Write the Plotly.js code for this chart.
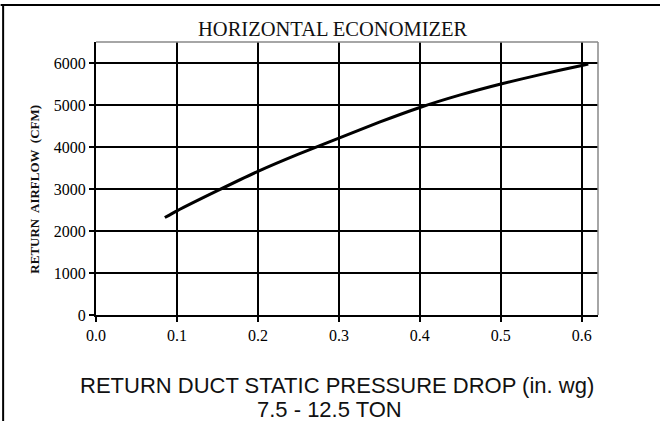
<!DOCTYPE html>
<html>
<head>
<meta charset="utf-8">
<script src="https://cdn.plot.ly/plotly-3.0.1.min.js"></script>
<style>html,body{margin:0;padding:0;background:#fff;}#chart{width:660px;height:421px;}</style>
</head>
<body>
<div id="chart"></div>
<script>
// Data
const pressureDrop = [0.085, 0.1, 0.15, 0.2, 0.25, 0.3, 0.35, 0.4, 0.45, 0.5, 0.55, 0.6, 0.608];
const returnAirflow = [2320, 2480, 2960, 3420, 3830, 4210, 4590, 4940, 5240, 5500, 5730, 5940, 5975];
const xTickVals = [0.0, 0.1, 0.2, 0.3, 0.4, 0.5, 0.6];
const xTickText = ['0.0', '0.1', '0.2', '0.3', '0.4', '0.5', '0.6'];
const yTickVals = [0, 1000, 2000, 3000, 4000, 5000, 6000];
const yTickText = ['0', '1000', '2000', '3000', '4000', '5000', '6000'];

const serif = 'Liberation Serif, Times New Roman, serif';
const sans = 'Liberation Sans, Arial, sans-serif';

const trace = {
  x: pressureDrop, y: returnAirflow, type: 'scatter', mode: 'lines',
  line: {color: '#000', width: 3, shape: 'spline', smoothing: 0.6},
  hoverinfo: 'skip'
};

const layout = {
  width: 660, height: 421,
  margin: {l: 96, r: 62, t: 42, b: 106},
  paper_bgcolor: '#fff', plot_bgcolor: '#fff',
  showlegend: false,
  title: {text: 'HORIZONTAL ECONOMIZER', font: {family: serif, size: 20.5, color: '#111'},
          xref: 'container', x: 0.504, xanchor: 'center', yref: 'container', y: 0.932, yanchor: 'middle'},
  xaxis: {range: [0, 0.62], tickvals: xTickVals, ticktext: xTickText,
          showgrid: true, gridcolor: '#000', gridwidth: 2, zeroline: false,
          showline: true, linecolor: '#000', linewidth: 2,
          ticks: 'outside', ticklen: 5, tickwidth: 2, tickcolor: '#000',
          tickfont: {family: serif, size: 16, color: '#000'}, fixedrange: true},
  yaxis: {range: [0, 6500], tickvals: yTickVals, ticktext: yTickText,
          showgrid: true, gridcolor: '#000', gridwidth: 2, zeroline: false,
          showline: true, linecolor: '#000', linewidth: 2,
          ticks: 'outside', ticklen: 5, tickwidth: 2, tickcolor: '#000',
          tickfont: {family: serif, size: 16, color: '#000'}, fixedrange: true},
  shapes: [
    {type: 'line', xref: 'paper', yref: 'paper', x0: 0, x1: 1, y0: 1, y1: 1, line: {color: '#888', width: 1.5}},
    {type: 'line', xref: 'paper', yref: 'paper', x0: 1, x1: 1, y0: 0, y1: 1, line: {color: '#888', width: 1.5}},
    {type: 'line', xref: 'paper', yref: 'paper', x0: -0.19, x1: 1.13, y0: 1.1355, y1: 1.1355, line: {color: '#000', width: 2}},
    {type: 'line', xref: 'paper', yref: 'paper', x0: -0.185, x1: -0.185, y0: -0.4, y1: 1.1355, line: {color: '#000', width: 2}}
  ],
  annotations: [
    {text: 'RETURN  AIRFLOW  (CFM)', xref: 'paper', yref: 'paper', x: -0.123, y: 0.46, textangle: -90,
     showarrow: false, xanchor: 'center', yanchor: 'middle', font: {family: serif, size: 13, color: '#111', weight: 'bold'}},
    {text: 'RETURN DUCT STATIC PRESSURE DROP (in. wg)', xref: 'paper', yref: 'paper', x: 0.48, y: -0.257,
     showarrow: false, xanchor: 'center', yanchor: 'middle', font: {family: sans, size: 22, color: '#111'}},
    {text: '7.5 - 12.5 TON', xref: 'paper', yref: 'paper', x: 0.466, y: -0.345,
     showarrow: false, xanchor: 'center', yanchor: 'middle', font: {family: sans, size: 22, color: '#111'}}
  ]
};

Plotly.newPlot('chart', [trace], layout, {displayModeBar: false, staticPlot: true});
</script>
</body>
</html>
